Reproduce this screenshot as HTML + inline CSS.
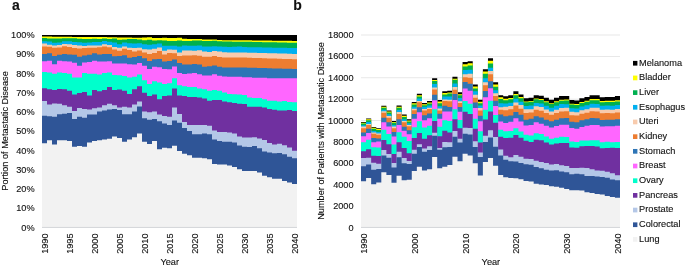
<!DOCTYPE html>
<html><head><meta charset="utf-8"><style>
html,body{margin:0;padding:0;background:#fff;width:685px;height:265px;overflow:hidden;}
svg{display:block;font-family:"Liberation Sans",sans-serif;}
</style></head><body>
<svg width="685" height="265" viewBox="0 0 685 265">
<rect x="361" y="205.71" width="259" height="0.8" fill="#E2E2E2"/>
<rect x="361" y="184.32" width="259" height="0.8" fill="#E2E2E2"/>
<rect x="361" y="162.93" width="259" height="0.8" fill="#E2E2E2"/>
<rect x="361" y="141.54" width="259" height="0.8" fill="#E2E2E2"/>
<rect x="361" y="120.16" width="259" height="0.8" fill="#E2E2E2"/>
<rect x="361" y="98.77" width="259" height="0.8" fill="#E2E2E2"/>
<rect x="361" y="77.38" width="259" height="0.8" fill="#E2E2E2"/>
<rect x="361" y="55.99" width="259" height="0.8" fill="#E2E2E2"/>
<rect x="361" y="34.6" width="259" height="0.8" fill="#E2E2E2"/>
<path d="M42 35 L47 35 L47 35 L52 35 L52 35 L57 35 L57 35 L62 35 L62 35 L67 35 L67 35 L72 35 L72 35 L77 35 L77 35 L82 35 L82 35 L87 35 L87 35 L92 35 L92 35 L97 35 L97 35 L102 35 L102 35 L107 35 L107 35 L112 35 L112 35 L117 35 L117 35 L122 35 L122 35 L127 35 L127 35 L132 35 L132 35 L137 35 L137 35 L142 35 L142 35 L147 35 L147 35 L152 35 L152 35 L157 35 L157 35 L162 35 L162 35 L167 35 L167 35 L172 35 L172 35 L177 35 L177 35 L182 35 L182 35 L187 35 L187 35 L192 35 L192 35 L197 35 L197 35 L202 35 L202 35 L207 35 L207 35 L212 35 L212 35 L217 35 L217 35 L222 35 L222 35 L227 35 L227 35 L232 35 L232 35 L237 35 L237 35 L242 35 L242 35 L247 35 L247 35 L252 35 L252 35 L257 35 L257 35 L262 35 L262 35 L267 35 L267 35 L272 35 L272 35 L277 35 L277 35 L282 35 L282 35 L287 35 L287 35 L292 35 L292 35 L297 35 L297 227.5 L42 227.5 Z" fill="#000000"/>
<path d="M42 36.5 L47 36.5 L47 36.57 L52 36.57 L52 36.63 L57 36.63 L57 36.7 L62 36.7 L62 36.77 L67 36.77 L67 36.83 L72 36.83 L72 36.9 L77 36.9 L77 36.97 L82 36.97 L82 37.03 L87 37.03 L87 37.1 L92 37.1 L92 36.9 L97 36.9 L97 37 L102 37 L102 37.1 L107 37.1 L107 37.2 L112 37.2 L112 37.3 L117 37.3 L117 37.4 L122 37.4 L122 37.5 L127 37.5 L127 37.6 L132 37.6 L132 37.7 L137 37.7 L137 37.8 L142 37.8 L142 37.5 L147 37.5 L147 37.2 L152 37.2 L152 37.9 L157 37.9 L157 37.9 L162 37.9 L162 37.7 L167 37.7 L167 37.9 L172 37.9 L172 37.9 L177 37.9 L177 37.7 L182 37.7 L182 38.7 L187 38.7 L187 39 L192 39 L192 38.9 L197 38.9 L197 38.9 L202 38.9 L202 39.6 L207 39.6 L207 39.6 L212 39.6 L212 39.6 L217 39.6 L217 39.9 L222 39.9 L222 40.2 L227 40.2 L227 40.2 L232 40.2 L232 40.2 L237 40.2 L237 40.2 L242 40.2 L242 40.3 L247 40.3 L247 40.36 L252 40.36 L252 40.42 L257 40.42 L257 40.48 L262 40.48 L262 40.54 L267 40.54 L267 40.6 L272 40.6 L272 40.66 L277 40.66 L277 40.72 L282 40.72 L282 40.78 L287 40.78 L287 40.84 L292 40.84 L292 40.9 L297 40.9 L297 227.5 L42 227.5 Z" fill="#FFFF00"/>
<path d="M42 37.9 L47 37.9 L47 38.4 L52 38.4 L52 38.4 L57 38.4 L57 38.4 L62 38.4 L62 38.3 L67 38.3 L67 38.3 L72 38.3 L72 38.3 L77 38.3 L77 38.7 L82 38.7 L82 38.9 L87 38.9 L87 39 L92 39 L92 38.7 L97 38.7 L97 38.9 L102 38.9 L102 38.4 L107 38.4 L107 38.9 L112 38.9 L112 38.4 L117 38.4 L117 39.8 L122 39.8 L122 39.4 L127 39.4 L127 39 L132 39 L132 38.9 L137 38.9 L137 39.4 L142 39.4 L142 40.2 L147 40.2 L147 39.8 L152 39.8 L152 40.5 L157 40.5 L157 40.2 L162 40.2 L162 40.5 L167 40.5 L167 40.9 L172 40.9 L172 40.9 L177 40.9 L177 40.5 L182 40.5 L182 40.9 L187 40.9 L187 40.9 L192 40.9 L192 40.5 L197 40.5 L197 40.5 L202 40.5 L202 40.9 L207 40.9 L207 40.9 L212 40.9 L212 40.7 L217 40.7 L217 41.2 L222 41.2 L222 41.5 L227 41.5 L227 41.5 L232 41.5 L232 41.7 L237 41.7 L237 41.7 L242 41.7 L242 41.7 L247 41.7 L247 41.81 L252 41.81 L252 41.92 L257 41.92 L257 42.03 L262 42.03 L262 42.14 L267 42.14 L267 42.25 L272 42.25 L272 42.36 L277 42.36 L277 42.47 L282 42.47 L282 42.58 L287 42.58 L287 42.69 L292 42.69 L292 42.8 L297 42.8 L297 227.5 L42 227.5 Z" fill="#00B050"/>
<path d="M42 41.3 L47 41.3 L47 41.5 L52 41.5 L52 42.8 L57 42.8 L57 42.4 L62 42.4 L62 41.3 L67 41.3 L67 41.2 L72 41.2 L72 42.1 L77 42.1 L77 42.2 L82 42.2 L82 42.8 L87 42.8 L87 42.4 L92 42.4 L92 42.1 L97 42.1 L97 41.9 L102 41.9 L102 40.9 L107 40.9 L107 41.7 L112 41.7 L112 42.4 L117 42.4 L117 44.3 L122 44.3 L122 42.4 L127 42.4 L127 43.2 L132 43.2 L132 43.6 L137 43.6 L137 43.2 L142 43.2 L142 44.3 L147 44.3 L147 44.7 L152 44.7 L152 44.3 L157 44.3 L157 43.6 L162 43.6 L162 45.8 L167 45.8 L167 45.8 L172 45.8 L172 45.8 L177 45.8 L177 46.6 L182 46.6 L182 45.5 L187 45.5 L187 45.8 L192 45.8 L192 45.7 L197 45.7 L197 45.5 L202 45.5 L202 46.4 L207 46.4 L207 46.4 L212 46.4 L212 46.2 L217 46.2 L217 46.4 L222 46.4 L222 46.7 L227 46.7 L227 47 L232 47 L232 46.7 L237 46.7 L237 46.6 L242 46.6 L242 47.1 L247 47.1 L247 47.19 L252 47.19 L252 47.28 L257 47.28 L257 47.37 L262 47.37 L262 47.46 L267 47.46 L267 47.55 L272 47.55 L272 47.64 L277 47.64 L277 47.73 L282 47.73 L282 47.82 L287 47.82 L287 47.91 L292 47.91 L292 48 L297 48 L297 227.5 L42 227.5 Z" fill="#00B0F0"/>
<path d="M42 43.6 L47 43.6 L47 44.7 L52 44.7 L52 45.5 L57 45.5 L57 45.1 L62 45.1 L62 43.9 L67 43.9 L67 44.3 L72 44.3 L72 45.1 L77 45.1 L77 45.5 L82 45.5 L82 46 L87 46 L87 45.5 L92 45.5 L92 45.5 L97 45.5 L97 45.5 L102 45.5 L102 44.3 L107 44.3 L107 45.1 L112 45.1 L112 47 L117 47 L117 47.7 L122 47.7 L122 46.6 L127 46.6 L127 47.7 L132 47.7 L132 48.1 L137 48.1 L137 47.8 L142 47.8 L142 49.2 L147 49.2 L147 49.4 L152 49.4 L152 48.8 L157 48.8 L157 47.4 L162 47.4 L162 50.7 L167 50.7 L167 49.4 L172 49.4 L172 49.8 L177 49.8 L177 52.4 L182 52.4 L182 50.4 L187 50.4 L187 50.4 L192 50.4 L192 50.7 L197 50.7 L197 50.2 L202 50.2 L202 51.5 L207 51.5 L207 51.9 L212 51.9 L212 51.1 L217 51.1 L217 51.5 L222 51.5 L222 52.2 L227 52.2 L227 52.6 L232 52.6 L232 52.6 L237 52.6 L237 52.6 L242 52.6 L242 52.5 L247 52.5 L247 52.64 L252 52.64 L252 52.78 L257 52.78 L257 52.92 L262 52.92 L262 53.06 L267 53.06 L267 53.2 L272 53.2 L272 53.34 L277 53.34 L277 53.48 L282 53.48 L282 53.62 L287 53.62 L287 53.76 L292 53.76 L292 53.9 L297 53.9 L297 227.5 L42 227.5 Z" fill="#F8CBAD"/>
<path d="M42 46.6 L47 46.6 L47 46.7 L52 46.7 L52 47.7 L57 47.7 L57 47.5 L62 47.5 L62 46.2 L67 46.2 L67 47 L72 47 L72 47.9 L77 47.9 L77 48.5 L82 48.5 L82 48.1 L87 48.1 L87 47.7 L92 47.7 L92 47.7 L97 47.7 L97 47.3 L102 47.3 L102 46.6 L107 46.6 L107 47.3 L112 47.3 L112 49.6 L117 49.6 L117 50.7 L122 50.7 L122 48.8 L127 48.8 L127 50 L132 50 L132 51.5 L137 51.5 L137 50.5 L142 50.5 L142 52.5 L147 52.5 L147 54 L152 54 L152 53 L157 53 L157 51.1 L162 51.1 L162 54.4 L167 54.4 L167 53.1 L172 53.1 L172 53.2 L177 53.2 L177 55.9 L182 55.9 L182 55.5 L187 55.5 L187 55.4 L192 55.4 L192 55.2 L197 55.2 L197 55.7 L202 55.7 L202 56.8 L207 56.8 L207 56.8 L212 56.8 L212 56.1 L217 56.1 L217 57.1 L222 57.1 L222 57.5 L227 57.5 L227 57.6 L232 57.6 L232 57.6 L237 57.6 L237 57.6 L242 57.6 L242 57.6 L247 57.6 L247 57.76 L252 57.76 L252 57.92 L257 57.92 L257 58.08 L262 58.08 L262 58.24 L267 58.24 L267 58.4 L272 58.4 L272 58.56 L277 58.56 L277 58.72 L282 58.72 L282 58.88 L287 58.88 L287 59.04 L292 59.04 L292 59.2 L297 59.2 L297 227.5 L42 227.5 Z" fill="#ED7D31"/>
<path d="M42 54.1 L47 54.1 L47 53.3 L52 53.3 L52 55.9 L57 55.9 L57 54.8 L62 54.8 L62 54.1 L67 54.1 L67 54.4 L72 54.4 L72 54.8 L77 54.8 L77 56.8 L82 56.8 L82 55.6 L87 55.6 L87 54.8 L92 54.8 L92 53.3 L97 53.3 L97 54.4 L102 54.4 L102 54.1 L107 54.1 L107 54.1 L112 54.1 L112 56.3 L117 56.3 L117 55.9 L122 55.9 L122 55.3 L127 55.3 L127 57.8 L132 57.8 L132 57.1 L137 57.1 L137 56.1 L142 56.1 L142 58.2 L147 58.2 L147 61 L152 61 L152 59.2 L157 59.2 L157 59 L162 59 L162 61.5 L167 61.5 L167 61 L172 61 L172 59.6 L177 59.6 L177 62.9 L182 62.9 L182 64.4 L187 64.4 L187 64.5 L192 64.5 L192 64.1 L197 64.1 L197 64.6 L202 64.6 L202 66.8 L207 66.8 L207 66.2 L212 66.2 L212 65.6 L217 65.6 L217 66.8 L222 66.8 L222 67.5 L227 67.5 L227 67.5 L232 67.5 L232 67.5 L237 67.5 L237 67.5 L242 67.5 L242 67.5 L247 67.5 L247 67.65 L252 67.65 L252 67.8 L257 67.8 L257 67.95 L262 67.95 L262 68.1 L267 68.1 L267 68.25 L272 68.25 L272 68.4 L277 68.4 L277 68.55 L282 68.55 L282 68.7 L287 68.7 L287 68.85 L292 68.85 L292 69 L297 69 L297 227.5 L42 227.5 Z" fill="#2E75B6"/>
<path d="M42 61.3 L47 61.3 L47 60.8 L52 60.8 L52 64.3 L57 64.3 L57 60.8 L62 60.8 L62 61.3 L67 61.3 L67 61.6 L72 61.6 L72 62.8 L77 62.8 L77 65.8 L82 65.8 L82 62.4 L87 62.4 L87 61.9 L92 61.9 L92 60.8 L97 60.8 L97 61.6 L102 61.6 L102 61.6 L107 61.6 L107 61.3 L112 61.3 L112 63.4 L117 63.4 L117 63.4 L122 63.4 L122 63.4 L127 63.4 L127 64.3 L132 64.3 L132 64.6 L137 64.6 L137 62.9 L142 62.9 L142 65.8 L147 65.8 L147 69 L152 69 L152 66.7 L157 66.7 L157 67.2 L162 67.2 L162 69 L167 69 L167 69.2 L172 69.2 L172 66.4 L177 66.4 L177 73.1 L182 73.1 L182 74 L187 74 L187 73.4 L192 73.4 L192 73.1 L197 73.1 L197 74.3 L202 74.3 L202 75.5 L207 75.5 L207 75.5 L212 75.5 L212 74.3 L217 74.3 L217 75.8 L222 75.8 L222 76.5 L227 76.5 L227 76.8 L232 76.8 L232 76.8 L237 76.8 L237 76.8 L242 76.8 L242 77.3 L247 77.3 L247 77.3 L252 77.3 L252 77.7 L257 77.7 L257 77.7 L262 77.7 L262 77.7 L267 77.7 L267 78.3 L272 78.3 L272 78.3 L277 78.3 L277 78.3 L282 78.3 L282 78.3 L287 78.3 L287 78.3 L292 78.3 L292 78.3 L297 78.3 L297 227.5 L42 227.5 Z" fill="#FF66FF"/>
<path d="M42 71.9 L47 71.9 L47 72.5 L52 72.5 L52 73.7 L57 73.7 L57 72.5 L62 72.5 L62 72.9 L67 72.9 L67 73.7 L72 73.7 L72 77.5 L77 77.5 L77 77.5 L82 77.5 L82 72.9 L87 72.9 L87 73.7 L92 73.7 L92 73.7 L97 73.7 L97 74.4 L102 74.4 L102 72.9 L107 72.9 L107 72.5 L112 72.5 L112 74.9 L117 74.9 L117 75.2 L122 75.2 L122 75.9 L127 75.9 L127 77.5 L132 77.5 L132 76.7 L137 76.7 L137 74.4 L142 74.4 L142 80.3 L147 80.3 L147 84.1 L152 84.1 L152 81.3 L157 81.3 L157 82.5 L162 82.5 L162 84.1 L167 84.1 L167 83.3 L172 83.3 L172 78.3 L177 78.3 L177 85.3 L182 85.3 L182 86.3 L187 86.3 L187 87.1 L192 87.1 L192 87.1 L197 87.1 L197 88.6 L202 88.6 L202 89.3 L207 89.3 L207 90.8 L212 90.8 L212 90.1 L217 90.1 L217 90.8 L222 90.8 L222 92.4 L227 92.4 L227 93.9 L232 93.9 L232 94.3 L237 94.3 L237 94.6 L242 94.6 L242 95 L247 95 L247 97.6 L252 97.6 L252 97.9 L257 97.9 L257 97.9 L262 97.9 L262 99.2 L267 99.2 L267 100.7 L272 100.7 L272 100.7 L277 100.7 L277 101.4 L282 101.4 L282 101 L287 101 L287 101.9 L292 101.9 L292 102.2 L297 102.2 L297 227.5 L42 227.5 Z" fill="#00FFCC"/>
<path d="M42 88.3 L47 88.3 L47 89.3 L52 89.3 L52 90.1 L57 90.1 L57 88.9 L62 88.9 L62 89.3 L67 89.3 L67 90.8 L72 90.8 L72 94.6 L77 94.6 L77 93.1 L82 93.1 L82 91.9 L87 91.9 L87 95.4 L92 95.4 L92 90.1 L97 90.1 L97 91.3 L102 91.3 L102 90.1 L107 90.1 L107 87.1 L112 87.1 L112 90.1 L117 90.1 L117 89.6 L122 89.6 L122 90.8 L127 90.8 L127 93.9 L132 93.9 L132 89.3 L137 89.3 L137 86.3 L142 86.3 L142 92.8 L147 92.8 L147 96.1 L152 96.1 L152 94.6 L157 94.6 L157 99.2 L162 99.2 L162 96.1 L167 96.1 L167 95.4 L172 95.4 L172 88.6 L177 88.6 L177 95.4 L182 95.4 L182 96.1 L187 96.1 L187 96.9 L192 96.9 L192 96.9 L197 96.9 L197 97.6 L202 97.6 L202 98.4 L207 98.4 L207 100.7 L212 100.7 L212 99.9 L217 99.9 L217 99.9 L222 99.9 L222 101.4 L227 101.4 L227 102.2 L232 102.2 L232 102.9 L237 102.9 L237 103.7 L242 103.7 L242 104 L247 104 L247 106.7 L252 106.7 L252 106.7 L257 106.7 L257 106.7 L262 106.7 L262 107.5 L267 107.5 L267 109 L272 109 L272 109.7 L277 109.7 L277 110.5 L282 110.5 L282 110.5 L287 110.5 L287 110 L292 110 L292 110.9 L297 110.9 L297 227.5 L42 227.5 Z" fill="#7030A0"/>
<path d="M42 101 L47 101 L47 104.4 L52 104.4 L52 103.4 L57 103.4 L57 103.7 L62 103.7 L62 105.2 L67 105.2 L67 106.7 L72 106.7 L72 110.9 L77 110.9 L77 107.9 L82 107.9 L82 109 L87 109 L87 109.4 L92 109.4 L92 108.2 L97 108.2 L97 107.5 L102 107.5 L102 105.2 L107 105.2 L107 103.7 L112 103.7 L112 105.2 L117 105.2 L117 107.5 L122 107.5 L122 106.7 L127 106.7 L127 107.5 L132 107.5 L132 104.4 L137 104.4 L137 101.4 L142 101.4 L142 111.5 L147 111.5 L147 112.3 L152 112.3 L152 111.5 L157 111.5 L157 114.5 L162 114.5 L162 116 L167 116 L167 116.8 L172 116.8 L172 107.5 L177 107.5 L177 114 L182 114 L182 122.1 L187 122.1 L187 125.1 L192 125.1 L192 125.1 L197 125.1 L197 125.1 L202 125.1 L202 125.1 L207 125.1 L207 125.8 L212 125.8 L212 130.4 L217 130.4 L217 131.9 L222 131.9 L222 131.9 L227 131.9 L227 132.6 L232 132.6 L232 133.4 L237 133.4 L237 136.4 L242 136.4 L242 137.6 L247 137.6 L247 137.6 L252 137.6 L252 137.3 L257 137.3 L257 138.4 L262 138.4 L262 139.9 L267 139.9 L267 142.9 L272 142.9 L272 144.4 L277 144.4 L277 143.7 L282 143.7 L282 145.2 L287 145.2 L287 147.5 L292 147.5 L292 150.8 L297 150.8 L297 227.5 L42 227.5 Z" fill="#B4C7E7"/>
<path d="M42 115.7 L47 115.7 L47 116.3 L52 116.3 L52 116.8 L57 116.8 L57 114.2 L62 114.2 L62 113.8 L67 113.8 L67 113 L72 113 L72 119 L77 119 L77 116.8 L82 116.8 L82 117.8 L87 117.8 L87 114.5 L92 114.5 L92 114.5 L97 114.5 L97 111.5 L102 111.5 L102 110.5 L107 110.5 L107 109.5 L112 109.5 L112 109 L117 109 L117 110 L122 110 L122 114.2 L127 114.2 L127 114.2 L132 114.2 L132 111.5 L137 111.5 L137 106.5 L142 106.5 L142 118.3 L147 118.3 L147 119.8 L152 119.8 L152 119.1 L157 119.1 L157 121.3 L162 121.3 L162 123.6 L167 123.6 L167 125.1 L172 125.1 L172 120.6 L177 120.6 L177 122.8 L182 122.8 L182 128.1 L187 128.1 L187 131.1 L192 131.1 L192 134.2 L197 134.2 L197 134.2 L202 134.2 L202 133.4 L207 133.4 L207 134.2 L212 134.2 L212 139.4 L217 139.4 L217 140.9 L222 140.9 L222 141.7 L227 141.7 L227 141.7 L232 141.7 L232 142.5 L237 142.5 L237 145.5 L242 145.5 L242 146.7 L247 146.7 L247 147 L252 147 L252 145.9 L257 145.9 L257 148.2 L262 148.2 L262 151.5 L267 151.5 L267 152.4 L272 152.4 L272 153.3 L277 153.3 L277 153 L282 153 L282 154.3 L287 154.3 L287 156.8 L292 156.8 L292 158.3 L297 158.3 L297 227.5 L42 227.5 Z" fill="#2F5597"/>
<path d="M42 143.2 L47 143.2 L47 140.2 L52 140.2 L52 144.6 L57 144.6 L57 140.2 L62 140.2 L62 140.2 L67 140.2 L67 141 L72 141 L72 146.8 L77 146.8 L77 146 L82 146 L82 146.8 L87 146.8 L87 142.5 L92 142.5 L92 141 L97 141 L97 140.2 L102 140.2 L102 139.4 L107 139.4 L107 138.7 L112 138.7 L112 136.4 L117 136.4 L117 137.9 L122 137.9 L122 141.7 L127 141.7 L127 139.4 L132 139.4 L132 137.2 L137 137.2 L137 133.4 L142 133.4 L142 141.7 L147 141.7 L147 144 L152 144 L152 141 L157 141 L157 149.2 L162 149.2 L162 147.7 L167 147.7 L167 148.3 L172 148.3 L172 145.8 L177 145.8 L177 151 L182 151 L182 153.8 L187 153.8 L187 155.3 L192 155.3 L192 157.8 L197 157.8 L197 157.8 L202 157.8 L202 158.3 L207 158.3 L207 159.3 L212 159.3 L212 163.9 L217 163.9 L217 164.6 L222 164.6 L222 164.6 L227 164.6 L227 165.4 L232 165.4 L232 166.9 L237 166.9 L237 169.2 L242 169.2 L242 171.1 L247 171.1 L247 171.1 L252 171.1 L252 171.1 L257 171.1 L257 172.6 L262 172.6 L262 175.7 L267 175.7 L267 177.2 L272 177.2 L272 178.7 L277 178.7 L277 178.7 L282 178.7 L282 180.9 L287 180.9 L287 182.5 L292 182.5 L292 184 L297 184 L297 227.5 L42 227.5 Z" fill="#F2F2F2"/>
<path d="M361 121.9 L366.08 121.9 L366.08 118.4 L371.16 118.4 L371.16 127 L376.24 127 L376.24 128.2 L381.31 128.2 L381.31 105.7 L386.39 105.7 L386.39 110.4 L391.47 110.4 L391.47 121 L396.55 121 L396.55 105.4 L401.63 105.4 L401.63 114.6 L406.71 114.6 L406.71 119.2 L411.78 119.2 L411.78 102 L416.86 102 L416.86 93.8 L421.94 93.8 L421.94 103 L427.02 103 L427.02 101 L432.1 101 L432.1 78.3 L437.18 78.3 L437.18 100 L442.25 100 L442.25 91.3 L447.33 91.3 L447.33 90.7 L452.41 90.7 L452.41 76.7 L457.49 76.7 L457.49 92.2 L462.57 92.2 L462.57 62.1 L467.65 62.1 L467.65 61.3 L472.73 61.3 L472.73 84.4 L477.8 84.4 L477.8 99.8 L482.88 99.8 L482.88 69.3 L487.96 69.3 L487.96 58.3 L493.04 58.3 L493.04 82.2 L498.12 82.2 L498.12 95.3 L503.2 95.3 L503.2 96.3 L508.27 96.3 L508.27 95.3 L513.35 95.3 L513.35 91.3 L518.43 91.3 L518.43 94.4 L523.51 94.4 L523.51 98.3 L528.59 98.3 L528.59 97.8 L533.67 97.8 L533.67 95.3 L538.75 95.3 L538.75 95.7 L543.82 95.7 L543.82 97.8 L548.9 97.8 L548.9 99.8 L553.98 99.8 L553.98 97.8 L559.06 97.8 L559.06 96.1 L564.14 96.1 L564.14 95.9 L569.22 95.9 L569.22 100.1 L574.29 100.1 L574.29 100.5 L579.37 100.5 L579.37 98.2 L584.45 98.2 L584.45 96.9 L589.53 96.9 L589.53 95.2 L594.61 95.2 L594.61 95.2 L599.69 95.2 L599.69 97.2 L604.76 97.2 L604.76 96.9 L609.84 96.9 L609.84 96.9 L614.92 96.9 L614.92 96.1 L620 96.1 L620 227.5 L361 227.5 Z" fill="#000000"/>
<path d="M361 122.72 L366.08 122.72 L366.08 119.29 L371.16 119.29 L371.16 127.85 L376.24 127.85 L376.24 129.08 L381.31 129.08 L381.31 106.82 L386.39 106.82 L386.39 111.52 L391.47 111.52 L391.47 122.05 L396.55 122.05 L396.55 106.65 L401.63 106.65 L401.63 115.79 L406.71 115.79 L406.71 120.38 L411.78 120.38 L411.78 103.24 L416.86 103.24 L416.86 95.19 L421.94 95.19 L421.94 104.36 L427.02 104.36 L427.02 102.45 L432.1 102.45 L432.1 80.08 L437.18 80.08 L437.18 101.59 L442.25 101.59 L442.25 93.07 L447.33 93.07 L447.33 92.55 L452.41 92.55 L452.41 78.82 L457.49 78.82 L457.49 94.17 L462.57 94.17 L462.57 64.25 L467.65 64.25 L467.65 63.2 L472.73 63.2 L472.73 86.56 L477.8 86.56 L477.8 101.72 L482.88 101.72 L482.88 71.52 L487.96 71.52 L487.96 60.85 L493.04 60.85 L493.04 84.39 L498.12 84.39 L498.12 97.15 L503.2 97.15 L503.2 98.82 L508.27 98.82 L508.27 98.05 L513.35 98.05 L513.35 94.06 L518.43 94.06 L518.43 97.1 L523.51 97.1 L523.51 101.39 L528.59 101.39 L528.59 100.9 L533.67 100.9 L533.67 98.46 L538.75 98.46 L538.75 99.05 L543.82 99.05 L543.82 101.3 L548.9 101.3 L548.9 103.25 L553.98 103.25 L553.98 101.3 L559.06 101.3 L559.06 99.65 L564.14 99.65 L564.14 99.52 L569.22 99.52 L569.22 103.65 L574.29 103.65 L574.29 104.08 L579.37 104.08 L579.37 101.88 L584.45 101.88 L584.45 100.66 L589.53 100.66 L589.53 99.05 L594.61 99.05 L594.61 99.09 L599.69 99.09 L599.69 101.07 L604.76 101.07 L604.76 100.82 L609.84 100.82 L609.84 100.86 L614.92 100.86 L614.92 100.13 L620 100.13 L620 227.5 L361 227.5 Z" fill="#FFFF00"/>
<path d="M361 123.49 L366.08 123.49 L366.08 120.33 L371.16 120.33 L371.16 128.78 L376.24 128.78 L376.24 129.95 L381.31 129.95 L381.31 107.79 L386.39 107.79 L386.39 112.41 L391.47 112.41 L391.47 122.83 L396.55 122.83 L396.55 107.75 L401.63 107.75 L401.63 116.89 L406.71 116.89 L406.71 121.45 L411.78 121.45 L411.78 104.41 L416.86 104.41 L416.86 96.51 L421.94 96.51 L421.94 105.2 L427.02 105.2 L427.02 103.56 L432.1 103.56 L432.1 80.94 L437.18 80.94 L437.18 103.18 L442.25 103.18 L442.25 94.41 L447.33 94.41 L447.33 93.54 L452.41 93.54 L452.41 79.76 L457.49 79.76 L457.49 95.29 L462.57 95.29 L462.57 66.57 L467.65 66.57 L467.65 65.44 L472.73 65.44 L472.73 88.49 L477.8 88.49 L477.8 103.25 L482.88 103.25 L482.88 73.82 L487.96 73.82 L487.96 63.49 L493.04 63.49 L493.04 86.65 L498.12 86.65 L498.12 99.08 L503.2 99.08 L503.2 100.32 L508.27 100.32 L508.27 99.35 L513.35 99.35 L513.35 95.19 L518.43 95.19 L518.43 98.2 L523.51 98.2 L523.51 102.26 L528.59 102.26 L528.59 101.78 L533.67 101.78 L533.67 99.21 L538.75 99.21 L538.75 99.94 L543.82 99.94 L543.82 102.18 L548.9 102.18 L548.9 104.11 L553.98 104.11 L553.98 102.31 L559.06 102.31 L559.06 100.67 L564.14 100.67 L564.14 100.48 L569.22 100.48 L569.22 104.61 L574.29 104.61 L574.29 105.07 L579.37 105.07 L579.37 102.92 L584.45 102.92 L584.45 101.74 L589.53 101.74 L589.53 100.18 L594.61 100.18 L594.61 100.26 L599.69 100.26 L599.69 102.26 L604.76 102.26 L604.76 102.04 L609.84 102.04 L609.84 102.12 L614.92 102.12 L614.92 101.42 L620 101.42 L620 227.5 L361 227.5 Z" fill="#00B050"/>
<path d="M361 125.36 L366.08 125.36 L366.08 122.08 L371.16 122.08 L371.16 131.07 L376.24 131.07 L376.24 132.02 L381.31 132.02 L381.31 109.69 L386.39 109.69 L386.39 114.17 L391.47 114.17 L391.47 124.93 L396.55 124.93 L396.55 109.97 L401.63 109.97 L401.63 119.17 L406.71 119.17 L406.71 123.36 L411.78 123.36 L411.78 106.63 L416.86 106.63 L416.86 98.59 L421.94 98.59 L421.94 106.82 L427.02 106.82 L427.02 105.4 L432.1 105.4 L432.1 84.04 L437.18 84.04 L437.18 106.16 L442.25 106.16 L442.25 96.54 L447.33 96.54 L447.33 96.53 L452.41 96.53 L452.41 83.44 L457.49 83.44 L457.49 97.96 L462.57 97.96 L462.57 70.09 L467.65 70.09 L467.65 69.67 L472.73 69.67 L472.73 91.31 L477.8 91.31 L477.8 105.51 L482.88 105.51 L482.88 78.18 L487.96 78.18 L487.96 67.79 L493.04 67.79 L493.04 90.35 L498.12 90.35 L498.12 103.27 L503.2 103.27 L503.2 103.46 L508.27 103.46 L508.27 102.72 L513.35 102.72 L513.35 98.87 L518.43 98.87 L518.43 101.66 L523.51 101.66 L523.51 105.95 L528.59 105.95 L528.59 105.48 L533.67 105.48 L533.67 102.99 L538.75 102.99 L538.75 103.51 L543.82 103.51 L543.82 105.68 L548.9 105.68 L548.9 107.76 L553.98 107.76 L553.98 105.68 L559.06 105.68 L559.06 104.02 L564.14 104.02 L564.14 104.17 L569.22 104.17 L569.22 108.17 L574.29 108.17 L574.29 108.6 L579.37 108.6 L579.37 106.51 L584.45 106.51 L584.45 105.35 L589.53 105.35 L589.53 103.83 L594.61 103.83 L594.61 103.89 L599.69 103.89 L599.69 105.82 L604.76 105.82 L604.76 105.6 L609.84 105.6 L609.84 105.66 L614.92 105.66 L614.92 104.97 L620 104.97 L620 227.5 L361 227.5 Z" fill="#00B0F0"/>
<path d="M361 126.62 L366.08 126.62 L366.08 123.9 L371.16 123.9 L371.16 132.48 L376.24 132.48 L376.24 133.41 L381.31 133.41 L381.31 111.33 L386.39 111.33 L386.39 116.06 L391.47 116.06 L391.47 126.59 L396.55 126.59 L396.55 112.06 L401.63 112.06 L401.63 121.05 L406.71 121.05 L406.71 125.11 L411.78 125.11 L411.78 108.85 L416.86 108.85 L416.86 101.09 L421.94 101.09 L421.94 109.01 L427.02 109.01 L427.02 107.64 L432.1 107.64 L432.1 87.6 L437.18 87.6 L437.18 108.41 L442.25 108.41 L442.25 99.51 L447.33 99.51 L447.33 99.73 L452.41 99.73 L452.41 86.96 L457.49 86.96 L457.49 101.2 L462.57 101.2 L462.57 74.3 L467.65 74.3 L467.65 73.73 L472.73 73.73 L472.73 94.66 L477.8 94.66 L477.8 108.03 L482.88 108.03 L482.88 82.2 L487.96 82.2 L487.96 70.96 L493.04 70.96 L493.04 93.37 L498.12 93.37 L498.12 107.25 L503.2 107.25 L503.2 106.8 L508.27 106.8 L508.27 105.88 L513.35 105.88 L513.35 102.41 L518.43 102.41 L518.43 104.91 L523.51 104.91 L523.51 109.37 L528.59 109.37 L528.59 109.19 L533.67 109.19 L533.67 106.36 L538.75 106.36 L538.75 107 L543.82 107 L543.82 109.39 L548.9 109.39 L548.9 111.48 L553.98 111.48 L553.98 109.66 L559.06 109.66 L559.06 108.11 L564.14 108.11 L564.14 107.86 L569.22 107.86 L569.22 111.77 L574.29 111.77 L574.29 112.23 L579.37 112.23 L579.37 110.24 L584.45 110.24 L584.45 109.15 L589.53 109.15 L589.53 107.71 L594.61 107.71 L594.61 107.8 L599.69 107.8 L599.69 109.71 L604.76 109.71 L604.76 109.53 L609.84 109.53 L609.84 109.63 L614.92 109.63 L614.92 109 L620 109 L620 227.5 L361 227.5 Z" fill="#F8CBAD"/>
<path d="M361 128.26 L366.08 128.26 L366.08 125.03 L371.16 125.03 L371.16 133.63 L376.24 133.63 L376.24 134.65 L381.31 134.65 L381.31 112.79 L386.39 112.79 L386.39 117.7 L391.47 117.7 L391.47 128.14 L396.55 128.14 L396.55 113.96 L401.63 113.96 L401.63 122.28 L406.71 122.28 L406.71 126.34 L411.78 126.34 L411.78 110.28 L416.86 110.28 L416.86 102.34 L421.94 102.34 L421.94 110.5 L427.02 110.5 L427.02 109.08 L432.1 109.08 L432.1 89.62 L437.18 89.62 L437.18 110.4 L442.25 110.4 L442.25 101.06 L447.33 101.06 L447.33 101.36 L452.41 101.36 L452.41 89.63 L457.49 89.63 L457.49 103.09 L462.57 103.09 L462.57 77.14 L467.65 77.14 L467.65 77.7 L472.73 77.7 L472.73 97.78 L477.8 97.78 L477.8 110.48 L482.88 110.48 L482.88 85.24 L487.96 85.24 L487.96 74.21 L493.04 74.21 L493.04 95.94 L498.12 95.94 L498.12 109.65 L503.2 109.65 L503.2 110.27 L508.27 110.27 L508.27 109.31 L513.35 109.31 L513.35 105.59 L518.43 105.59 L518.43 108.71 L523.51 108.71 L523.51 112.93 L528.59 112.93 L528.59 112.49 L533.67 112.49 L533.67 109.79 L538.75 109.79 L538.75 110.83 L543.82 110.83 L543.82 112.96 L548.9 112.96 L548.9 114.79 L553.98 114.79 L553.98 113.03 L559.06 113.03 L559.06 111.53 L564.14 111.53 L564.14 111.35 L569.22 111.35 L569.22 115.16 L574.29 115.16 L574.29 115.62 L579.37 115.62 L579.37 113.7 L584.45 113.7 L584.45 112.67 L589.53 112.67 L589.53 111.28 L594.61 111.28 L594.61 111.39 L599.69 111.39 L599.69 113.26 L604.76 113.26 L604.76 113.1 L609.84 113.1 L609.84 113.21 L614.92 113.21 L614.92 112.62 L620 112.62 L620 227.5 L361 227.5 Z" fill="#ED7D31"/>
<path d="M361 132.38 L366.08 132.38 L366.08 128.77 L371.16 128.77 L371.16 137.91 L376.24 137.91 L376.24 138.41 L381.31 138.41 L381.31 117.79 L386.39 117.79 L386.39 122.2 L391.47 122.2 L391.47 131.95 L396.55 131.95 L396.55 119.23 L401.63 119.23 L401.63 126.68 L406.71 126.68 L406.71 130.34 L411.78 130.34 L411.78 113.93 L416.86 113.93 L416.86 107.27 L421.94 107.27 L421.94 115.35 L427.02 115.35 L427.02 113.55 L432.1 113.55 L432.1 94.81 L437.18 94.81 L437.18 113.84 L442.25 113.84 L442.25 105.66 L447.33 105.66 L447.33 106.9 L452.41 106.9 L452.41 94.01 L457.49 94.01 L457.49 107.03 L462.57 107.03 L462.57 82.03 L467.65 82.03 L467.65 83.75 L472.73 83.75 L472.73 102.39 L477.8 102.39 L477.8 115.72 L482.88 115.72 L482.88 91.08 L487.96 91.08 L487.96 81.15 L493.04 81.15 L493.04 100.77 L498.12 100.77 L498.12 114.46 L503.2 114.46 L503.2 116.34 L508.27 116.34 L508.27 115.56 L513.35 115.56 L513.35 111.89 L518.43 111.89 L518.43 114.87 L523.51 114.87 L523.51 119.64 L528.59 119.64 L528.59 118.82 L533.67 118.82 L533.67 116.31 L538.75 116.31 L538.75 117.47 L543.82 117.47 L543.82 119.7 L548.9 119.7 L548.9 121.36 L553.98 121.36 L553.98 119.7 L559.06 119.7 L559.06 118.28 L564.14 118.28 L564.14 118.12 L569.22 118.12 L569.22 121.71 L574.29 121.71 L574.29 122.14 L579.37 122.14 L579.37 120.33 L584.45 120.33 L584.45 119.36 L589.53 119.36 L589.53 118.05 L594.61 118.05 L594.61 118.15 L599.69 118.15 L599.69 119.91 L604.76 119.91 L604.76 119.76 L609.84 119.76 L609.84 119.87 L614.92 119.87 L614.92 119.31 L620 119.31 L620 227.5 L361 227.5 Z" fill="#2E75B6"/>
<path d="M361 136.33 L366.08 136.33 L366.08 133.02 L371.16 133.02 L371.16 142.3 L376.24 142.3 L376.24 141.51 L381.31 141.51 L381.31 122.34 L386.39 122.34 L386.39 126.58 L391.47 126.58 L391.47 136.38 L396.55 136.38 L396.55 124.94 L401.63 124.94 L401.63 130.67 L406.71 130.67 L406.71 134.33 L411.78 134.33 L411.78 118.82 L416.86 118.82 L416.86 112.27 L421.94 112.27 L421.94 120.2 L427.02 120.2 L427.02 118.28 L432.1 118.28 L432.1 100.31 L437.18 100.31 L437.18 118.81 L442.25 118.81 L442.25 111.39 L447.33 111.39 L447.33 111.52 L452.41 111.52 L452.41 99.89 L457.49 99.89 L457.49 111.81 L462.57 111.81 L462.57 88.56 L467.65 88.56 L467.65 90.65 L472.73 90.65 L472.73 107.97 L477.8 107.97 L477.8 121.16 L482.88 121.16 L482.88 97.24 L487.96 97.24 L487.96 88.36 L493.04 88.36 L493.04 105.9 L498.12 105.9 L498.12 121.47 L503.2 121.47 L503.2 122.88 L508.27 122.88 L508.27 121.67 L513.35 121.67 L513.35 118.26 L518.43 118.26 L518.43 121.57 L523.51 121.57 L523.51 125.48 L528.59 125.48 L528.59 125.09 L533.67 125.09 L533.67 122.29 L538.75 122.29 L538.75 123.63 L543.82 123.63 L543.82 125.76 L548.9 125.76 L548.9 127.53 L553.98 127.53 L553.98 125.96 L559.06 125.96 L559.06 124.63 L564.14 124.63 L564.14 124.82 L569.22 124.82 L569.22 128.09 L574.29 128.09 L574.29 128.67 L579.37 128.67 L579.37 126.88 L584.45 126.88 L584.45 125.87 L589.53 125.87 L589.53 124.96 L594.61 124.96 L594.61 124.96 L599.69 124.96 L599.69 126.51 L604.76 126.51 L604.76 126.28 L609.84 126.28 L609.84 126.28 L614.92 126.28 L614.92 125.66 L620 125.66 L620 227.5 L361 227.5 Z" fill="#FF66FF"/>
<path d="M361 142.14 L366.08 142.14 L366.08 139.65 L371.16 139.65 L371.16 147.2 L376.24 147.2 L376.24 147.54 L381.31 147.54 L381.31 129.68 L386.39 129.68 L386.39 133.94 L391.47 133.94 L391.47 144.51 L396.55 144.51 L396.55 132.36 L401.63 132.36 L401.63 136.83 L406.71 136.83 L406.71 140.97 L411.78 140.97 L411.78 127.23 L416.86 127.23 L416.86 121.17 L421.94 121.17 L421.94 127.51 L427.02 127.51 L427.02 125.64 L432.1 125.64 L432.1 109.23 L437.18 109.23 L437.18 126.63 L442.25 126.63 L442.25 120.24 L447.33 120.24 L447.33 120.9 L452.41 120.9 L452.41 109.37 L457.49 109.37 L457.49 119.89 L462.57 119.89 L462.57 101.02 L467.65 101.02 L467.65 103.69 L472.73 103.69 L472.73 118.82 L477.8 118.82 L477.8 131.31 L482.88 131.31 L482.88 109.65 L487.96 109.65 L487.96 100.75 L493.04 100.75 L493.04 114.88 L498.12 114.88 L498.12 129.84 L503.2 129.84 L503.2 131.26 L508.27 131.26 L508.27 131.08 L513.35 131.08 L513.35 128.16 L518.43 128.16 L518.43 131.46 L523.51 131.46 L523.51 134.74 L528.59 134.74 L528.59 135.4 L533.67 135.4 L533.67 133.14 L538.75 133.14 L538.75 133.9 L543.82 133.9 L543.82 136.47 L548.9 136.47 L548.9 138.87 L553.98 138.87 L553.98 137.75 L559.06 137.75 L559.06 136.78 L564.14 136.78 L564.14 136.92 L569.22 136.92 L569.22 141.53 L574.29 141.53 L574.29 142 L579.37 142 L579.37 140.45 L584.45 140.45 L584.45 140.46 L589.53 140.46 L589.53 140.35 L594.61 140.35 L594.61 140.35 L599.69 140.35 L599.69 142.15 L604.76 142.15 L604.76 141.68 L609.84 141.68 L609.84 142.29 L614.92 142.29 L614.92 141.97 L620 141.97 L620 227.5 L361 227.5 Z" fill="#00FFCC"/>
<path d="M361 151.14 L366.08 151.14 L366.08 149.17 L371.16 149.17 L371.16 155.77 L376.24 155.77 L376.24 156 L381.31 156 L381.31 140.06 L386.39 140.06 L386.39 144.34 L391.47 144.34 L391.47 153.97 L396.55 153.97 L396.55 142.25 L401.63 142.25 L401.63 147.97 L406.71 147.97 L406.71 153.18 L411.78 153.18 L411.78 137.92 L416.86 137.92 L416.86 132.9 L421.94 132.9 L421.94 138.64 L427.02 138.64 L427.02 135.24 L432.1 135.24 L432.1 121.01 L437.18 121.01 L437.18 136.16 L442.25 136.16 L442.25 130.78 L447.33 130.78 L447.33 132.56 L452.41 132.56 L452.41 119.24 L457.49 119.24 L457.49 128.26 L462.57 128.26 L462.57 111.76 L467.65 111.76 L467.65 114.05 L472.73 114.05 L472.73 128.71 L477.8 128.71 L477.8 142.39 L482.88 142.39 L482.88 119.51 L487.96 119.51 L487.96 111.39 L493.04 111.39 L493.04 122.66 L498.12 122.66 L498.12 136.78 L503.2 136.78 L503.2 137.94 L508.27 137.94 L508.27 137.81 L513.35 137.81 L513.35 135.1 L518.43 135.1 L518.43 137.68 L523.51 137.68 L523.51 140.85 L528.59 140.85 L528.59 142.07 L533.67 142.07 L533.67 139.87 L538.75 139.87 L538.75 140.14 L543.82 140.14 L543.82 142.54 L548.9 142.54 L548.9 144.38 L553.98 144.38 L553.98 143.55 L559.06 143.55 L559.06 142.99 L564.14 142.99 L564.14 143.07 L569.22 143.07 L569.22 147.55 L574.29 147.55 L574.29 147.8 L579.37 147.8 L579.37 146.36 L584.45 146.36 L584.45 146.09 L589.53 146.09 L589.53 146.06 L594.61 146.06 L594.61 146.54 L599.69 146.54 L599.69 148.3 L604.76 148.3 L604.76 148.12 L609.84 148.12 L609.84 147.78 L614.92 147.78 L614.92 147.91 L620 147.91 L620 227.5 L361 227.5 Z" fill="#7030A0"/>
<path d="M361 158.11 L366.08 158.11 L366.08 157.73 L371.16 157.73 L371.16 162.71 L376.24 162.71 L376.24 163.64 L381.31 163.64 L381.31 150.12 L386.39 150.12 L386.39 154.02 L391.47 154.02 L391.47 162.99 L396.55 162.99 L396.55 151.64 L401.63 151.64 L401.63 158 L406.71 158 L406.71 161.06 L411.78 161.06 L411.78 149.72 L416.86 149.72 L416.86 144.15 L421.94 144.15 L421.94 148.4 L427.02 148.4 L427.02 146.15 L432.1 146.15 L432.1 132.71 L437.18 132.71 L437.18 148.02 L442.25 148.02 L442.25 142.03 L447.33 142.03 L447.33 142.22 L452.41 142.22 L452.41 131.07 L457.49 131.07 L457.49 138.87 L462.57 138.87 L462.57 127.83 L467.65 127.83 L467.65 128.04 L472.73 128.04 L472.73 141.27 L477.8 141.27 L477.8 152.54 L482.88 152.54 L482.88 135.87 L487.96 135.87 L487.96 130.2 L493.04 130.2 L493.04 136.92 L498.12 136.92 L498.12 149.55 L503.2 149.55 L503.2 155.66 L508.27 155.66 L508.27 157.18 L513.35 157.18 L513.35 155.05 L518.43 155.05 L518.43 156.7 L523.51 156.7 L523.51 158.77 L528.59 158.77 L528.59 158.98 L533.67 158.98 L533.67 160.82 L538.75 160.82 L538.75 162.05 L543.82 162.05 L543.82 163.09 L548.9 163.09 L548.9 164.55 L553.98 164.55 L553.98 164.1 L559.06 164.1 L559.06 165.32 L564.14 165.32 L564.14 166.04 L569.22 166.04 L569.22 168 L574.29 168 L574.29 167.99 L579.37 167.99 L579.37 167.65 L584.45 167.65 L584.45 168.07 L589.53 168.07 L589.53 169.36 L594.61 169.36 L594.61 170.39 L599.69 170.39 L599.69 170.78 L604.76 170.78 L604.76 171.66 L609.84 171.66 L609.84 173.22 L614.92 173.22 L614.92 175.14 L620 175.14 L620 227.5 L361 227.5 Z" fill="#B4C7E7"/>
<path d="M361 166.17 L366.08 166.17 L366.08 164.48 L371.16 164.48 L371.16 169.71 L376.24 169.71 L376.24 169.05 L381.31 169.05 L381.31 155.56 L386.39 155.56 L386.39 157.85 L391.47 157.85 L391.47 167.47 L396.55 167.47 L396.55 157.28 L401.63 157.28 L401.63 163.16 L406.71 163.16 L406.71 163.93 L411.78 163.93 L411.78 153.83 L416.86 153.83 L416.86 146.93 L421.94 146.93 L421.94 151.83 L427.02 151.83 L427.02 149.96 L432.1 149.96 L432.1 135.65 L437.18 135.65 L437.18 149.68 L442.25 149.68 L442.25 147.34 L447.33 147.34 L447.33 146.98 L452.41 146.98 L452.41 136.63 L457.49 136.63 L457.49 142.45 L462.57 142.45 L462.57 133.67 L467.65 133.67 L467.65 134.51 L472.73 134.51 L472.73 146.92 L477.8 146.92 L477.8 157.05 L482.88 157.05 L482.88 142.11 L487.96 142.11 L487.96 137.49 L493.04 137.49 L493.04 146.81 L498.12 146.81 L498.12 155.6 L503.2 155.6 L503.2 159.75 L508.27 159.75 L508.27 161.3 L513.35 161.3 L513.35 161.49 L518.43 161.49 L518.43 162.99 L523.51 162.99 L523.51 164.34 L528.59 164.34 L528.59 164.64 L533.67 164.64 L533.67 167 L538.75 167 L538.75 168.21 L543.82 168.21 L543.82 169.69 L548.9 169.69 L548.9 170.58 L553.98 170.58 L553.98 170.23 L559.06 170.23 L559.06 171.53 L564.14 171.53 L564.14 172.26 L569.22 172.26 L569.22 174.22 L574.29 174.22 L574.29 173.67 L579.37 173.67 L579.37 174.24 L584.45 174.24 L584.45 175.94 L589.53 175.94 L589.53 175.89 L594.61 175.89 L594.61 176.5 L599.69 176.5 L599.69 177.07 L604.76 177.07 L604.76 177.84 L609.84 177.84 L609.84 179.53 L614.92 179.53 L614.92 180.26 L620 180.26 L620 227.5 L361 227.5 Z" fill="#2F5597"/>
<path d="M361 181.26 L366.08 181.26 L366.08 178.02 L371.16 178.02 L371.16 184.22 L376.24 184.22 L376.24 182.47 L381.31 182.47 L381.31 172.26 L386.39 172.26 L386.39 174.88 L391.47 174.88 L391.47 182.85 L396.55 182.85 L396.55 175.81 L401.63 175.81 L401.63 180.17 L406.71 180.17 L406.71 179.68 L411.78 179.68 L411.78 171.11 L416.86 171.11 L416.86 166.87 L421.94 166.87 L421.94 170.52 L427.02 170.52 L427.02 169.15 L432.1 169.15 L432.1 156.89 L437.18 156.89 L437.18 168.15 L442.25 168.15 L442.25 166.79 L447.33 166.79 L447.33 164.89 L452.41 164.89 L452.41 156.76 L457.49 156.76 L457.49 161.36 L462.57 161.36 L462.57 153.78 L467.65 153.78 L467.65 155.41 L472.73 155.41 L472.73 163.2 L477.8 163.2 L477.8 175.56 L482.88 175.56 L482.88 161.92 L487.96 161.92 L487.96 157.89 L493.04 157.89 L493.04 165.83 L498.12 165.83 L498.12 174.96 L503.2 174.96 L503.2 177.27 L508.27 177.27 L508.27 177.92 L513.35 177.92 L513.35 178.18 L518.43 178.18 L518.43 179.31 L523.51 179.31 L523.51 181.06 L528.59 181.06 L528.59 181.55 L533.67 181.55 L533.67 183.82 L538.75 183.82 L538.75 184.43 L543.82 184.43 L543.82 185.12 L548.9 185.12 L548.9 186.3 L553.98 186.3 L553.98 186.67 L559.06 186.67 L559.06 187.7 L564.14 187.7 L564.14 188.94 L569.22 188.94 L569.22 190.17 L574.29 190.17 L574.29 190.29 L579.37 190.29 L579.37 190.62 L584.45 190.62 L584.45 192.36 L589.53 192.36 L589.53 192.93 L594.61 192.93 L594.61 193.96 L599.69 193.96 L599.69 194.47 L604.76 194.47 L604.76 195.88 L609.84 195.88 L609.84 196.97 L614.92 196.97 L614.92 197.81 L620 197.81 L620 227.5 L361 227.5 Z" fill="#F2F2F2"/>
<rect x="42" y="226.9" width="255" height="1" fill="#DCDCDC"/>
<rect x="361" y="226.9" width="259" height="1" fill="#DCDCDC"/>
<rect x="633" y="60.9" width="4.4" height="4.7" fill="#000000"/>
<rect x="633" y="75.58" width="4.4" height="4.7" fill="#FFFF00"/>
<rect x="633" y="90.26" width="4.4" height="4.7" fill="#00B050"/>
<rect x="633" y="104.94" width="4.4" height="4.7" fill="#00B0F0"/>
<rect x="633" y="119.62" width="4.4" height="4.7" fill="#F8CBAD"/>
<rect x="633" y="134.3" width="4.4" height="4.7" fill="#ED7D31"/>
<rect x="633" y="148.98" width="4.4" height="4.7" fill="#2E75B6"/>
<rect x="633" y="163.66" width="4.4" height="4.7" fill="#FF66FF"/>
<rect x="633" y="178.34" width="4.4" height="4.7" fill="#00FFCC"/>
<rect x="633" y="193.02" width="4.4" height="4.7" fill="#7030A0"/>
<rect x="633" y="207.7" width="4.4" height="4.7" fill="#B4C7E7"/>
<rect x="633" y="222.38" width="4.4" height="4.7" fill="#2F5597"/>
<rect x="633" y="237.06" width="4.4" height="4.7" fill="#F2F2F2"/>
<g font-family="Liberation Sans, sans-serif" font-size="9.2" fill="#111" stroke="#111" stroke-width="0.12" style="will-change:transform">
<text x="34.6" y="230.7" text-anchor="end">0%</text>
<text x="34.6" y="211.45" text-anchor="end">10%</text>
<text x="34.6" y="192.2" text-anchor="end">20%</text>
<text x="34.6" y="172.95" text-anchor="end">30%</text>
<text x="34.6" y="153.7" text-anchor="end">40%</text>
<text x="34.6" y="134.45" text-anchor="end">50%</text>
<text x="34.6" y="115.2" text-anchor="end">60%</text>
<text x="34.6" y="95.95" text-anchor="end">70%</text>
<text x="34.6" y="76.7" text-anchor="end">80%</text>
<text x="34.6" y="57.45" text-anchor="end">90%</text>
<text x="34.6" y="38.2" text-anchor="end">100%</text>
<text x="353.6" y="230.6" text-anchor="end">0</text>
<text x="353.6" y="209.21" text-anchor="end">2000</text>
<text x="353.6" y="187.82" text-anchor="end">4000</text>
<text x="353.6" y="166.43" text-anchor="end">6000</text>
<text x="353.6" y="145.04" text-anchor="end">8000</text>
<text x="353.6" y="123.66" text-anchor="end">10000</text>
<text x="353.6" y="102.27" text-anchor="end">12000</text>
<text x="353.6" y="80.88" text-anchor="end">14000</text>
<text x="353.6" y="59.49" text-anchor="end">16000</text>
<text x="353.6" y="38.1" text-anchor="end">18000</text>
<text transform="translate(48.1 233.4) rotate(-90)" text-anchor="end">1990</text>
<text transform="translate(73.1 233.4) rotate(-90)" text-anchor="end">1995</text>
<text transform="translate(98.1 233.4) rotate(-90)" text-anchor="end">2000</text>
<text transform="translate(123.1 233.4) rotate(-90)" text-anchor="end">2005</text>
<text transform="translate(148.1 233.4) rotate(-90)" text-anchor="end">2010</text>
<text transform="translate(173.1 233.4) rotate(-90)" text-anchor="end">2015</text>
<text transform="translate(198.1 233.4) rotate(-90)" text-anchor="end">2020</text>
<text transform="translate(223.1 233.4) rotate(-90)" text-anchor="end">2025</text>
<text transform="translate(248.1 233.4) rotate(-90)" text-anchor="end">2030</text>
<text transform="translate(273.1 233.4) rotate(-90)" text-anchor="end">2035</text>
<text transform="translate(298.1 233.4) rotate(-90)" text-anchor="end">2040</text>
<text transform="translate(367.14 233.4) rotate(-90)" text-anchor="end">1990</text>
<text transform="translate(417.92 233.4) rotate(-90)" text-anchor="end">2000</text>
<text transform="translate(468.71 233.4) rotate(-90)" text-anchor="end">2010</text>
<text transform="translate(519.49 233.4) rotate(-90)" text-anchor="end">2020</text>
<text transform="translate(570.28 233.4) rotate(-90)" text-anchor="end">2030</text>
<text transform="translate(621.06 233.4) rotate(-90)" text-anchor="end">2040</text>
<text transform="translate(7.6 131) rotate(-90)" text-anchor="middle">Portion of Metastatic Disease</text>
<text transform="translate(324.4 131) rotate(-90)" text-anchor="middle">Number of Patients with Metastatic Disease</text>
<text x="169.7" y="264.6" text-anchor="middle">Year</text>
<text x="490.9" y="264.6" text-anchor="middle">Year</text>
<text x="639.1" y="65.6">Melanoma</text>
<text x="639.1" y="80.28">Bladder</text>
<text x="639.1" y="94.96">Liver</text>
<text x="639.1" y="109.64">Esophagus</text>
<text x="639.1" y="124.32">Uteri</text>
<text x="639.1" y="139">Kidney</text>
<text x="639.1" y="153.68">Stomach</text>
<text x="639.1" y="168.36">Breast</text>
<text x="639.1" y="183.04">Ovary</text>
<text x="639.1" y="197.72">Pancreas</text>
<text x="639.1" y="212.4">Prostate</text>
<text x="639.1" y="227.08">Colorectal</text>
<text x="639.1" y="241.76">Lung</text>
<text x="12" y="10.2" font-weight="bold" font-size="14">a</text>
<text x="293.3" y="9.8" font-weight="bold" font-size="14">b</text>
</g>
</svg>
</body></html>
